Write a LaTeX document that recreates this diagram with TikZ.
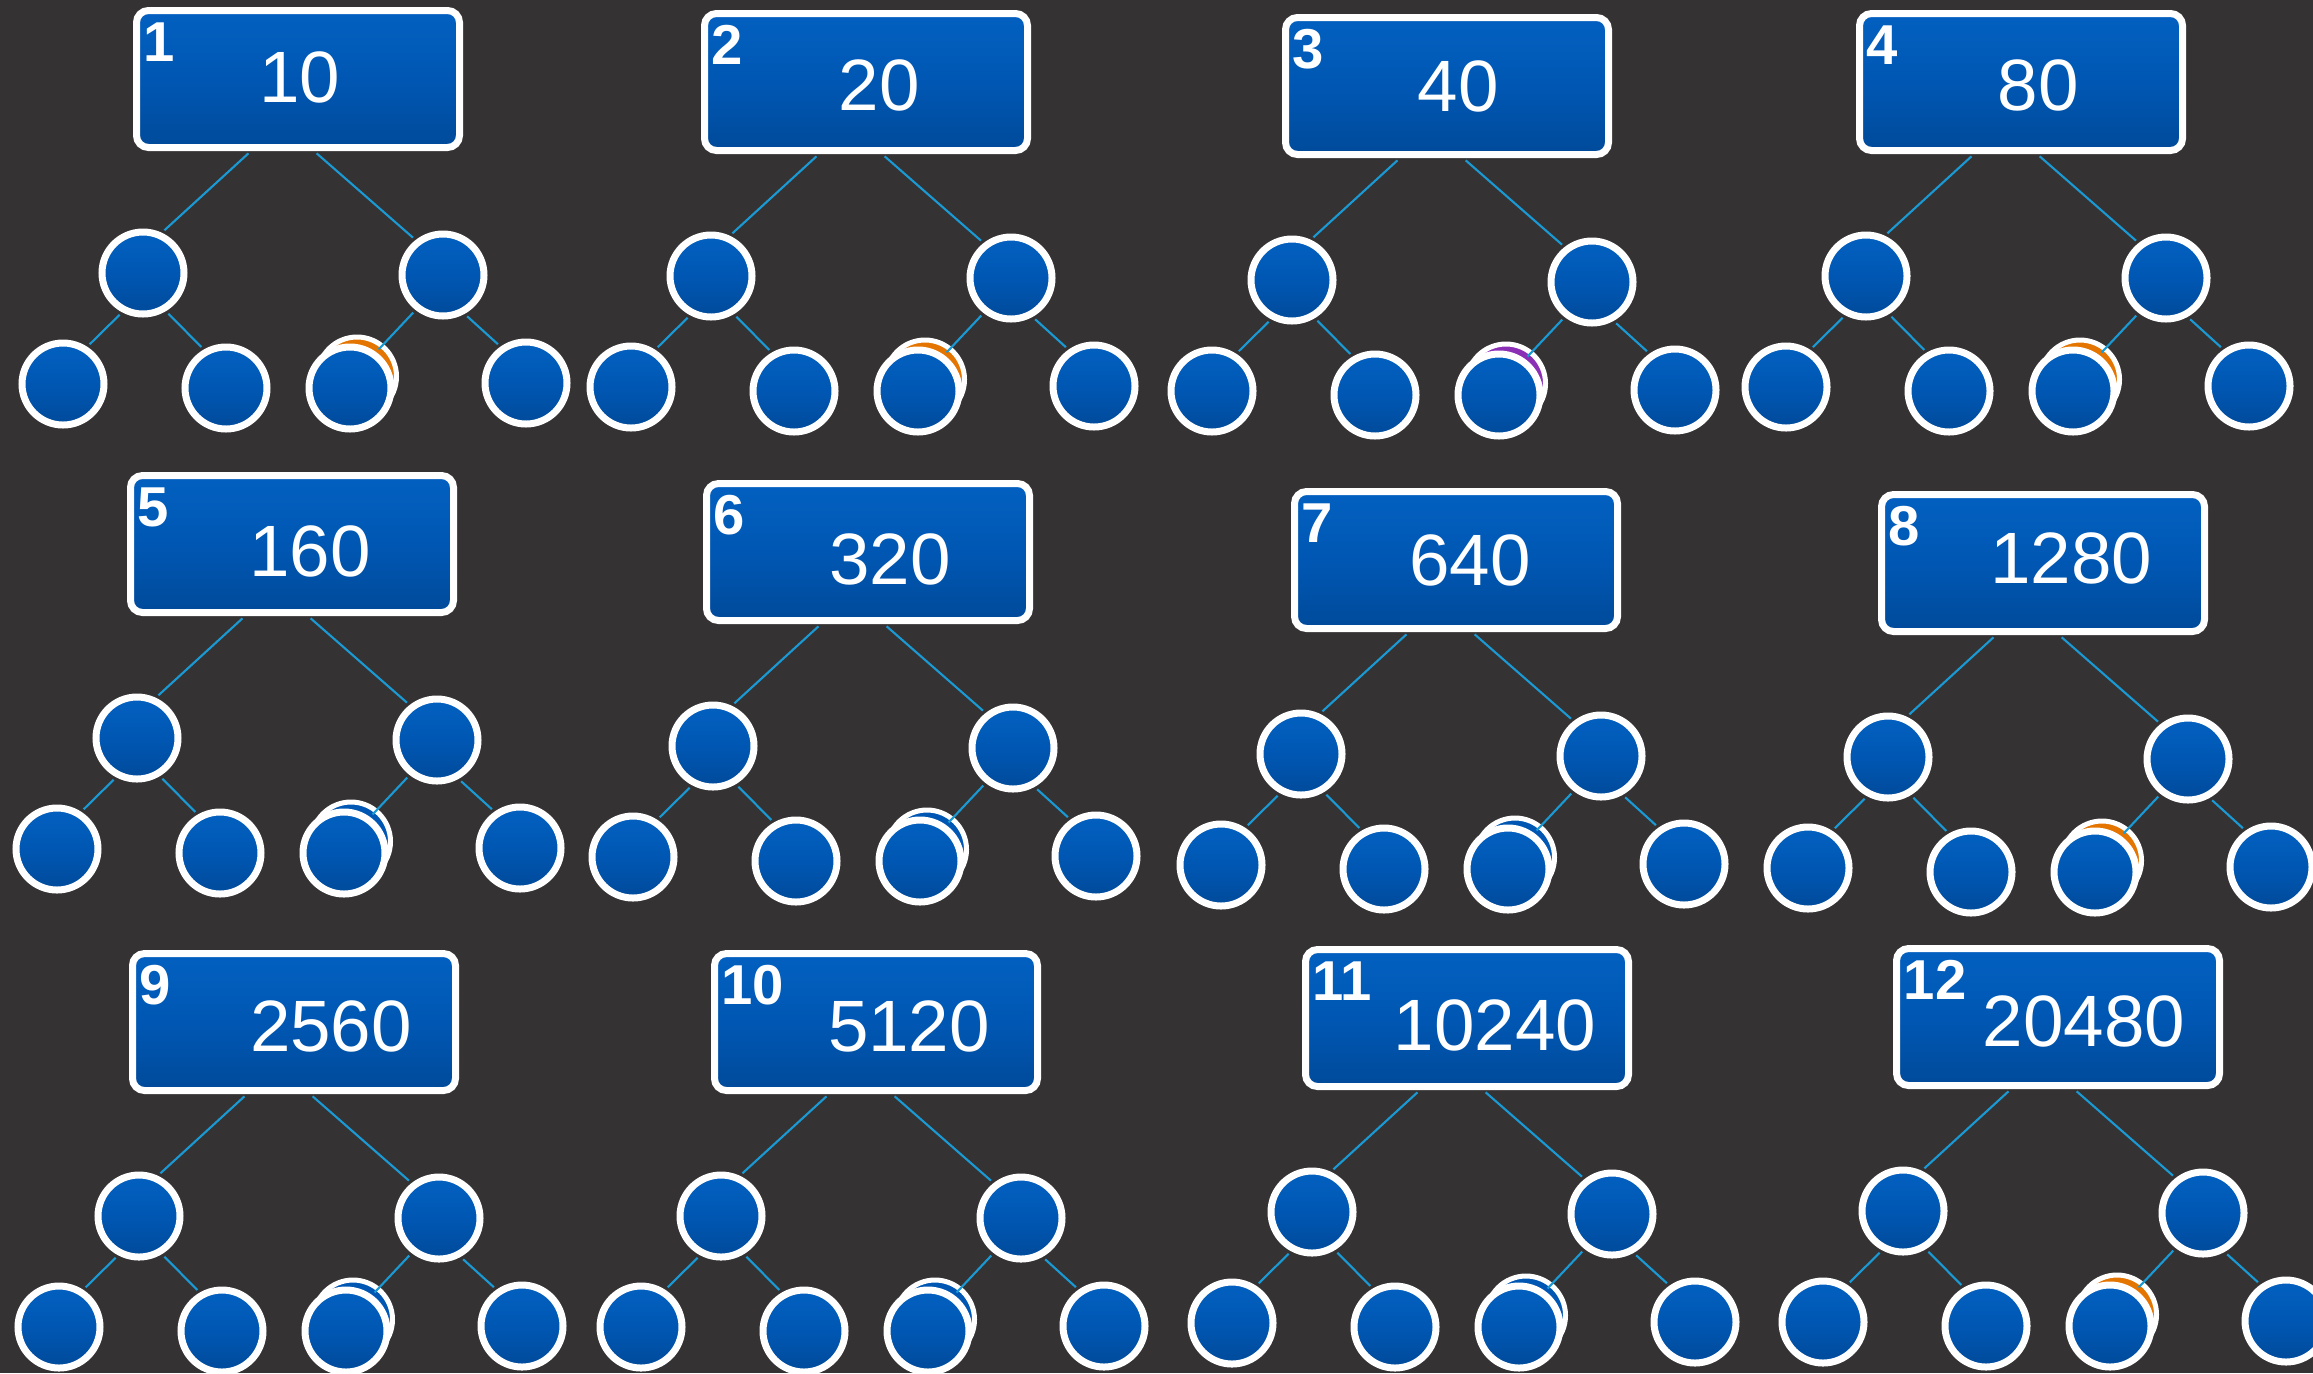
\documentclass[tikz,border=0pt]{standalone}
\usepackage{fontspec}
\setmainfont{Liberation Sans}
\usepackage{xcolor}
\usetikzlibrary{positioning, calc}

\definecolor{bgdark}{HTML}{353233}
\definecolor{tileblue}{HTML}{0057B3}
\definecolor{tiletop}{HTML}{0360C0}
\definecolor{tilebot}{HTML}{004A9A}
\definecolor{linkcyan}{HTML}{1A9AD4}
\definecolor{accorange}{HTML}{E47500}
\definecolor{accpurple}{HTML}{8B2FB5}

\begin{document}
\begin{tikzpicture}[
    valbox/.style={draw=white, line width=0.07cm, rounded corners=0.12cm, top color=tiletop, bottom color=tilebot, middle color=tileblue, minimum width=3.23cm, minimum height=1.37cm, inner sep=0pt},
    leafdot/.style={circle, draw=white, line width=0.07cm, top color=tiletop, bottom color=tilebot, middle color=tileblue, minimum size=0.82cm, inner sep=0pt},
    ghostdot/.style={circle, draw=white, line width=0.05cm, minimum size=0.79cm, inner sep=0pt},
    branch/.style={linkcyan, line width=0.6pt, shorten <=0.035cm, shorten >=0.035cm},
    idxtext/.style={text=white, font=\fontsize{16}{16}\selectfont\bfseries, inner sep=0pt, anchor=north west},
    numtext/.style={text=white, font=\fontsize{20.7}{22}\selectfont, inner sep=0pt}
]
    % dunkler Hintergrund
    \fill[bgdark] (0,0) rectangle (23.13,-13.73);
    \useasboundingbox (0,0) rectangle (23.13,-13.73);
    \clip (0,0) rectangle (23.13,-13.73);

    % zwoelf Kacheln: Kasten, zwei Knoten, vier Blaetter
    \foreach \i/\x/\y/\val/\dx/\dy/\acc in {
        1/2.98/-0.79/10/0.02/0.015/accorange,
        2/8.66/-0.82/20/0.13/-0.035/accorange,
        3/14.47/-0.86/40/0.11/0/accpurple,
        4/20.21/-0.82/80/0.17/-0.035/accorange,
        5/2.92/-5.44/160/0.18/-0.075/tileblue,
        6/8.68/-5.52/320/0.22/-0.075/tileblue,
        7/14.56/-5.60/640/0.14/0/tileblue,
        8/20.43/-5.63/1280/0.28/0.045/accorange,
        9/2.94/-10.22/2560/0.37/-0.04/tileblue,
        10/8.76/-10.22/5120/0.33/-0.04/tileblue,
        11/14.67/-10.18/10240/0.28/-0.07/tileblue,
        12/20.58/-10.17/20480/0.26/-0.04/accorange}
    {
        \node[valbox] (box\i) at (\x,\y) {};
        \node[idxtext] (idx\i) at ([xshift=0.1cm, yshift=-0.15cm]box\i.north west) {\i};
        \node[numtext] (num\i) at ([xshift=\dx cm, yshift=\dy cm]box\i.center) {\val};

        % mittlere Ebene
        \node[leafdot] (ml\i) at ([shift={(-1.55,-1.94)}]box\i.center) {};
        \node[leafdot] (mr\i) at ([shift={(1.45,-1.96)}]box\i.center) {};

        % untere Ebene (mit verdecktem Kreis hinter dem dritten Blatt)
        \node[ghostdot, fill=\acc] (hid\i) at ([shift={(0.59,-2.975)}]box\i.center) {};
        \node[leafdot] (la\i) at ([shift={(-2.35,-3.05)}]box\i.center) {};
        \node[leafdot] (lb\i) at ([shift={(-0.72,-3.09)}]box\i.center) {};
        \node[leafdot] (lc\i) at ([shift={(0.52,-3.09)}]box\i.center) {};
        \node[leafdot] (ld\i) at ([shift={(2.28,-3.04)}]box\i.center) {};

        % Verbindungen
        \draw[branch] ([xshift=-0.47cm]box\i.south) -- (ml\i.65);
        \draw[branch] ([xshift=0.16cm]box\i.south) -- (mr\i.128);
        \draw[branch] (ml\i.242) -- (la\i.57);
        \draw[branch] (ml\i.301) -- (lb\i.120);
        \draw[branch] (mr\i.232) -- (lc\i.54);
        \draw[branch] (mr\i.299) -- (ld\i.125);
    }
\end{tikzpicture}
\end{document}
